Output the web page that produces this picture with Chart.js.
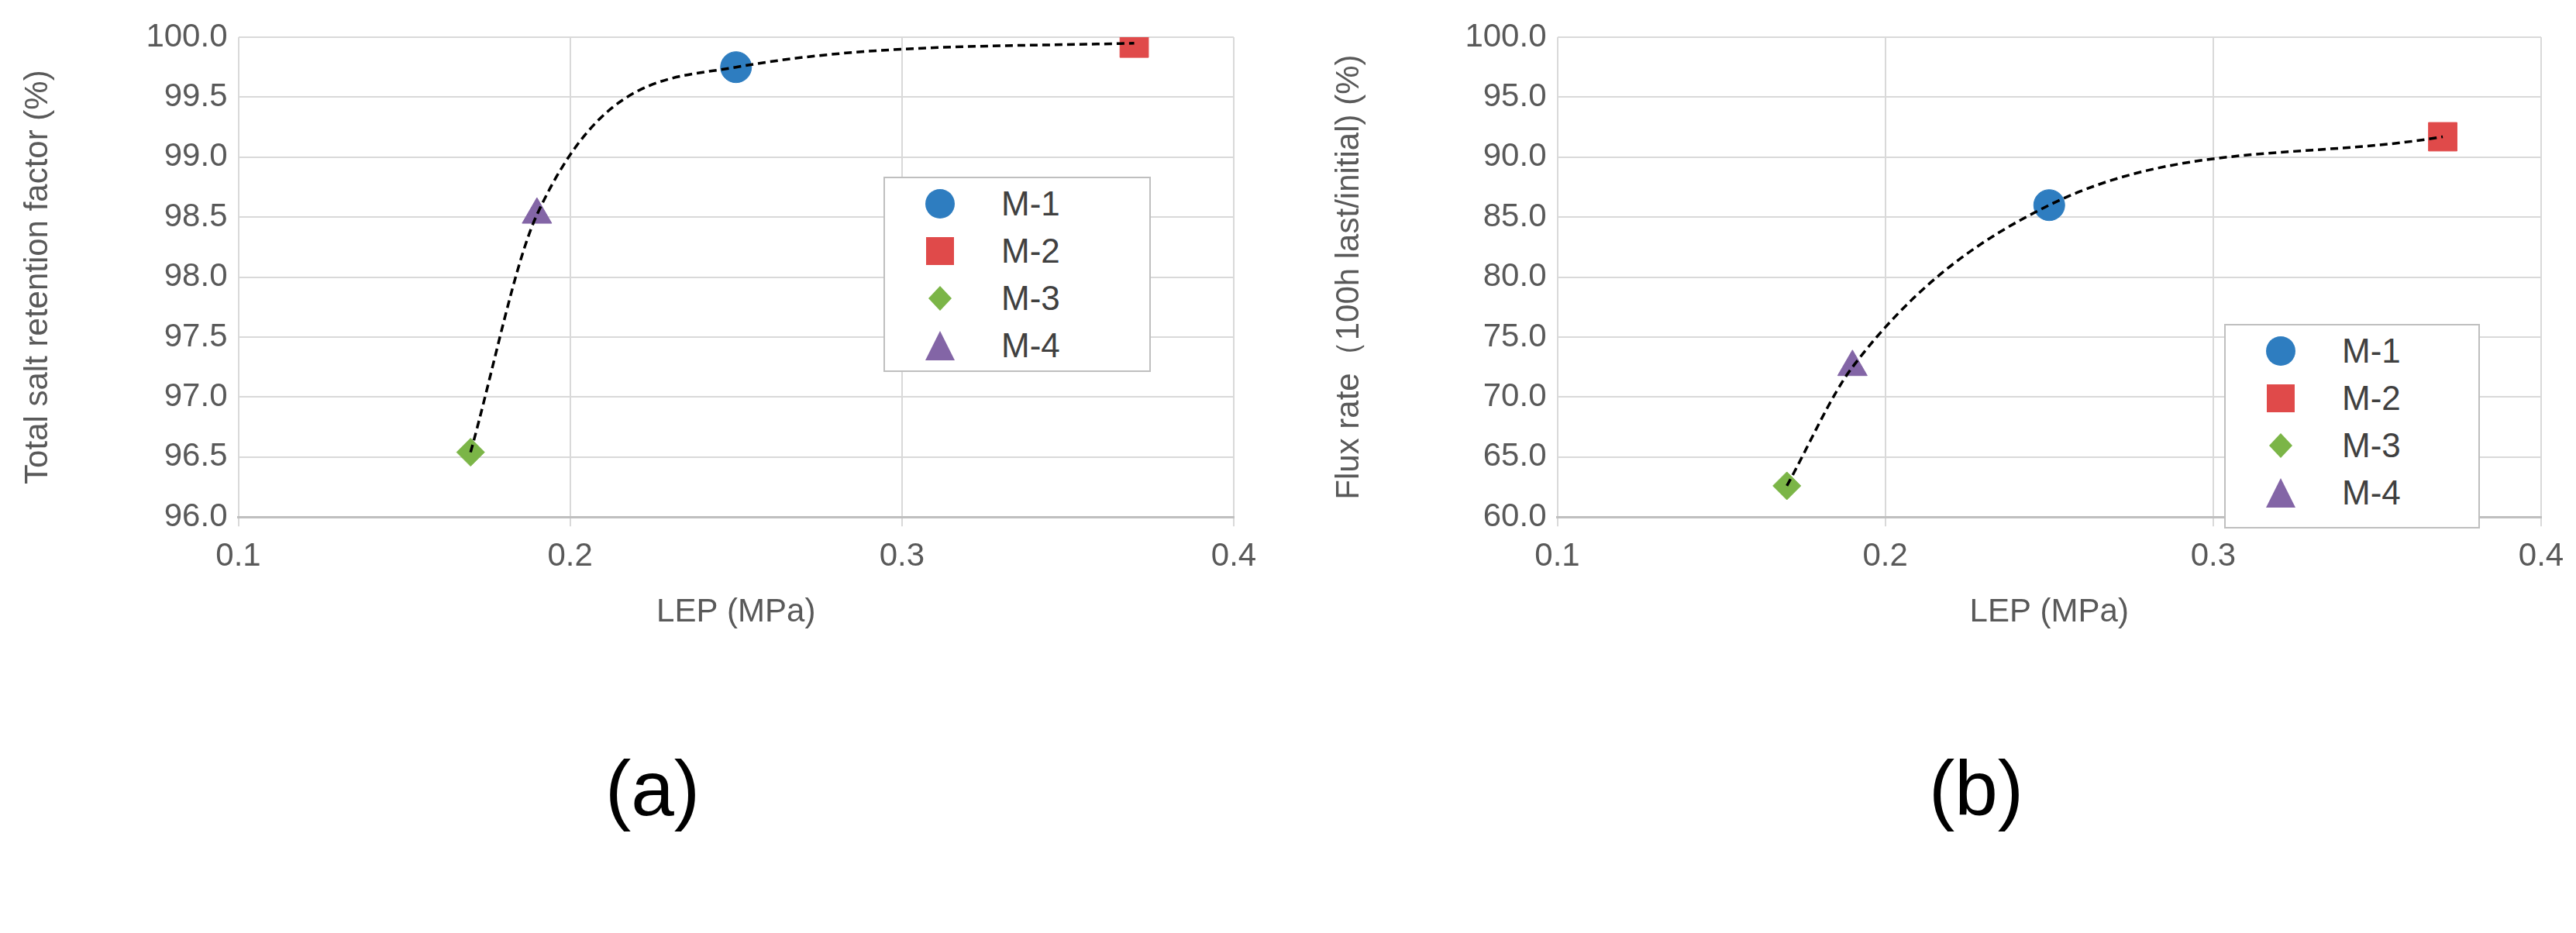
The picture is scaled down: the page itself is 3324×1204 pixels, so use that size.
<!DOCTYPE html>
<html><head><meta charset="utf-8">
<script src="https://cdn.jsdelivr.net/npm/chart.js@4/dist/chart.umd.min.js"></script>
<style>
  body { margin: 0; background: #fff; width: 3324px; height: 1204px; position: relative; overflow: hidden; font-family: Arial, "Liberation Sans", sans-serif; }
  .panel { position: absolute; top: 0; width: 1662px; height: 820px; }
  .tag { position: absolute; top: 960px; font-size: 100px; color: #000; width: 300px; text-align: center; }
  .legend { position: absolute; background: #fff; border: 2px solid #bfbfbf; padding: 2px 0 2px 50px; box-sizing: border-box; }
  .legend div { display: flex; align-items: center; height: 61px; font-size: 44px; color: #404040; }
  .legend span.ic { width: 42px; height: 42px; display: inline-flex; align-items: center; justify-content: center; margin-right: 58px; }
</style></head>
<body>
<div class="panel" style="left:0"><canvas id="chartA"></canvas></div>
<div class="panel" style="left:1662px"><canvas id="chartB"></canvas></div>
<div class="tag" style="left:692px">(a)</div>
<div class="tag" style="left:2400px">(b)</div>
<div class="legend" id="legA" style="left:1140px; top:228px; width:345px; height:252px"></div>
<div class="legend" id="legB" style="left:2870px; top:418px; width:330px; height:264px"></div>
<script>
// membrane samples
const names = ['M-1', 'M-2', 'M-3', 'M-4'];
const lep = [0.25, 0.37, 0.17, 0.19];          // LEP (MPa)
const retention = [99.75, 99.95, 96.54, 98.52]; // total salt retention (%)
const fluxRate = [86.0, 91.7, 62.6, 72.5];      // flux rate 100h last/initial (%)
const colors = ['#2e7dc0', '#e04a4a', '#7bb547', '#8365a6'];
const shapes = ['circle', 'rect', 'rectRot', 'triangle'];
const sizes = [20, 26, 18, 22];

function makeChart(id, yVals, yMin, yMax, yStep, yTitle, pad, titlePad) {
  const points = names.map((n, i) => ({
    label: n,
    data: [{ x: lep[i], y: yVals[i] }],
    backgroundColor: colors[i],
    borderColor: colors[i],
    pointStyle: shapes[i],
    pointRadius: sizes[i],
    showLine: false
  }));
  // dashed trend line through the points, sorted by LEP
  const order = lep.map((v, i) => i).sort((a, b) => lep[a] - lep[b]);
  const trend = {
    label: 'trend',
    data: order.map(i => ({ x: lep[i], y: yVals[i] })),
    borderColor: '#000',
    borderWidth: 3.5,
    borderDash: [10, 6],
    pointRadius: 0,
    showLine: true,
    cubicInterpolationMode: 'monotone',
    order: -1
  };
  return new Chart(document.getElementById(id), {
    type: 'scatter',
    data: { datasets: [...points, trend] },
    options: {
      responsive: false,
      animation: false,
      devicePixelRatio: 1,
      layout: { padding: pad },
      plugins: { legend: { display: false }, tooltip: { enabled: false } },
      scales: {
        x: {
          min: 0.1, max: 0.4,
          ticks: { stepSize: 0.1, color: '#595959', font: { size: 42 }, padding: 14, callback: v => v.toFixed(1) },
          grid: { color: '#d9d9d9', lineWidth: 2, tickLength: 12 },
          border: { color: '#bfbfbf', width: 3 },
          title: { display: true, text: 'LEP (MPa)', color: '#595959', font: { size: 42 }, padding: { top: 8 } }
        },
        y: {
          min: yMin, max: yMax,
          ticks: { stepSize: yStep, color: '#595959', font: { size: 42 }, padding: 14, callback: v => v.toFixed(1) },
          grid: { color: '#d9d9d9', lineWidth: 2, drawTicks: false },
          border: { display: false },
          title: { display: true, text: yTitle, color: '#595959', font: { size: 42 }, padding: { bottom: titlePad } }
        }
      }
    }
  });
}

// canvas sizes
['chartA', 'chartB'].forEach(id => {
  const c = document.getElementById(id);
  c.width = 1662; c.height = 820;
  c.style.width = '1662px'; c.style.height = '820px';
});

makeChart('chartA', retention, 96, 100, 0.5, 'Total salt retention factor (%)',
  { left: 20, right: 70, top: 48, bottom: 0 }, 100);
makeChart('chartB', fluxRate, 60, 100, 5, 'Flux rate（100h last/initial) (%)',
  { left: 50, right: 45, top: 48, bottom: 0 }, 110);

// legends
function icon(i) {
  const c = colors[i];
  if (i === 0) return `<svg width="42" height="42"><circle cx="21" cy="21" r="19" fill="${c}"/></svg>`;
  if (i === 1) return `<svg width="42" height="42"><rect x="3" y="3" width="36" height="36" fill="${c}"/></svg>`;
  if (i === 2) return `<svg width="42" height="42"><polygon points="21,5 36,21 21,37 6,21" fill="${c}"/></svg>`;
  return `<svg width="42" height="42"><polygon points="21,2 40,40 2,40" fill="${c}"/></svg>`;
}
['legA', 'legB'].forEach(id => {
  document.getElementById(id).innerHTML = names.map((n, i) =>
    `<div><span class="ic">${icon(i)}</span>${n}</div>`).join('');
});
</script>
</body></html>
